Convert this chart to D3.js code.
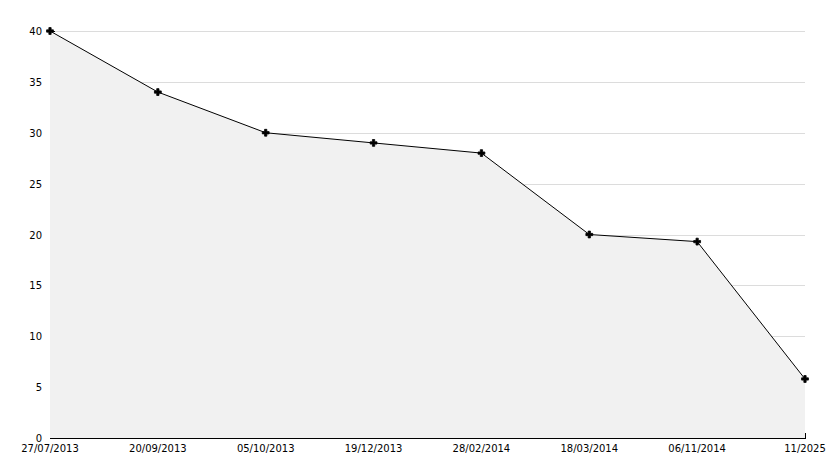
<!DOCTYPE html>
<html><head><meta charset="utf-8">
<script src="https://cdn.jsdelivr.net/npm/d3@7"></script>
<style>body{margin:0;background:#fff}text{font-family:"DejaVu Sans",sans-serif;font-size:10px;fill:#000}</style>
</head><body><svg width="834" height="468"></svg>
<script>
const categories=["27/07/2013","20/09/2013","05/10/2013","19/12/2013","28/02/2014","18/03/2014","06/11/2014","11/2025"];
const values=[40,34,30,29,28,20,19.3,5.8];
const yTicks=[0,5,10,15,20,25,30,35,40];
const svg=d3.select("svg");
const L=50,R=805,T=31,B=438;
const x=d3.scalePoint().domain(categories).range([L,R]);
const y=d3.scaleLinear().domain([0,40]).range([B,T]);
const g=svg.append("g").attr("shape-rendering","crispEdges");
g.selectAll(".grid").data(yTicks.filter(d=>d>0)).join("line")
 .attr("x1",L).attr("x2",R).attr("y1",d=>Math.round(y(d))+0.5).attr("y2",d=>Math.round(y(d))+0.5).attr("stroke","#dcdcdc");
const data=categories.map((c,i)=>({c,v:values[i]}));
svg.append("path").datum(data).attr("fill","#f1f1f1")
 .attr("d",d3.area().x(d=>x(d.c)).y0(B).y1(d=>y(d.v)));
svg.append("path").datum(data).attr("fill","none").attr("stroke","#000").attr("stroke-width",1)
 .attr("d",d3.line().x(d=>x(d.c)).y(d=>y(d.v)));
// axes
g.append("line").attr("x1",L+0.5).attr("x2",L+0.5).attr("y1",T).attr("y2",B).attr("stroke","#000");
g.append("line").attr("x1",L).attr("x2",R+1).attr("y1",B+0.5).attr("y2",B+0.5).attr("stroke","#000");
g.selectAll(".mt").data(d3.range(1,41)).join("line")
 .attr("x1",L).attr("x2",d=>L+(d%5===0?5:3)).attr("y1",d=>Math.round(y(d))+0.5).attr("y2",d=>Math.round(y(d))+0.5).attr("stroke","#000");
svg.selectAll(".yl").data(yTicks).join("text").attr("x",L-8).attr("y",d=>y(d)+4).attr("text-anchor","end").text(d=>d);
g.selectAll(".xt").data(categories.slice(1)).join("line")
 .attr("x1",d=>Math.round(x(d))+0.5).attr("x2",d=>Math.round(x(d))+0.5).attr("y1",B).attr("y2",B-5).attr("stroke","#000");
svg.selectAll(".xl").data(categories).join("text").attr("x",d=>x(d)).attr("y",B+14).attr("text-anchor","middle").text(d=>d);
svg.selectAll(".pt").data(data).join("path").attr("transform",d=>`translate(${x(d.c)},${y(d.v)})`)
 .attr("d",d3.symbol(d3.symbolCross,26)).attr("fill","#000").attr("stroke","#000").attr("stroke-width",0.8);
</script></body></html>
